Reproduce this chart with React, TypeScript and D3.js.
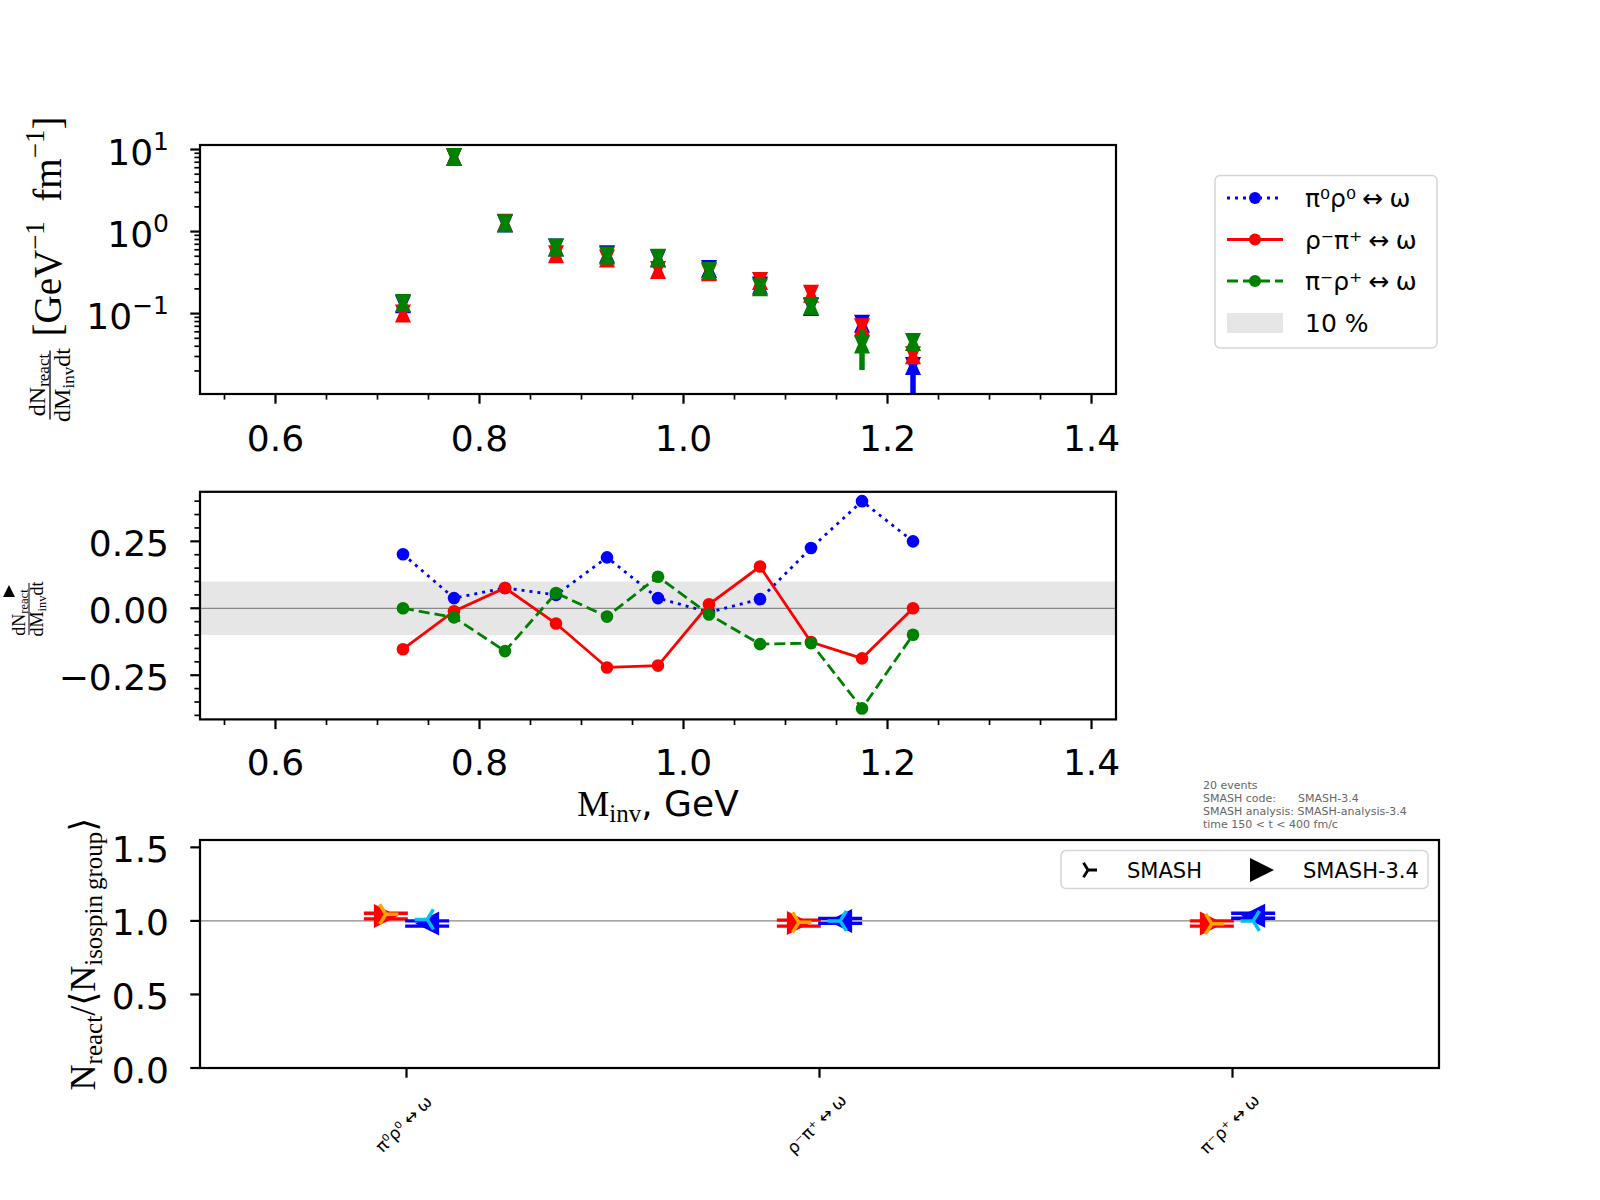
import * as d3 from 'd3';

// bin centres of the invariant-mass histogram, GeV
const BINS = [0.725, 0.775, 0.825, 0.875, 0.925, 0.975, 1.025, 1.075, 1.125, 1.175, 1.225];

// dN/dM dt per channel
const TOP_BLUE = [0.13, 8.1, 1.25, 0.64, 0.53, 0.47, 0.35, 0.22, 0.12, 0.075, 0.023];
const TOP_RED = [0.1, 8.1, 1.28, 0.53, 0.47, 0.34, 0.32, 0.25, 0.175, 0.068, 0.031];
const TOP_GREEN = [0.135, 8.1, 1.26, 0.64, 0.51, 0.48, 0.33, 0.21, 0.124, 0.042, 0.045];
const ERR_BLUE = [0.004, 0.2, 0.03, 0.015, 0.015, 0.012, 0.01, 0.008, 0.006, 0.006, 0.015];
const ERR_RED = [0.004, 0.2, 0.03, 0.015, 0.015, 0.012, 0.01, 0.008, 0.006, 0.005, 0.006];
const ERR_GREEN = [0.004, 0.2, 0.03, 0.015, 0.015, 0.012, 0.01, 0.008, 0.006, 0.0215, 0.008];

// relative deviation from the isospin-group mean
const DEV_BLUE = [0.202, 0.038, 0.076, 0.05, 0.19, 0.038, -0.015, 0.034, 0.225, 0.4, 0.25];
const DEV_RED = [-0.153, -0.011, 0.076, -0.057, -0.221, -0.214, 0.015, 0.156, -0.126, -0.187, 0.0];
const DEV_GREEN = [0.0, -0.034, -0.16, 0.057, -0.031, 0.118, -0.023, -0.134, -0.13, -0.374, -0.099];

const CHANNELS = ['π⁰ρ⁰\u2005↔\u2005ω', 'ρ⁻π⁺\u2005↔\u2005ω', 'π⁻ρ⁺\u2005↔\u2005ω'];

// N_react / <N_isospin group>
const NEW_LEFT = [1.033, 0.985, 0.982];
const NEW_LEFT_ERR = [0.019, 0.02, 0.018];
const OLD_LEFT = [1.045, 0.99, 0.98];
const NEW_RIGHT = [0.982, 1.0, 1.035];
const NEW_RIGHT_ERR = [0.018, 0.017, 0.017];
const OLD_RIGHT = [1.01, 1.0, 1.0];

const INFO = ['20 events', 'SMASH code:', 'SMASH analysis: SMASH-analysis-3.4', 'time 150 < t < 400 fm/c'];

const SERIES = [
  { name: CHANNELS[0], color: '#0000ff', dash: '3,5', top: TOP_BLUE, err: ERR_BLUE, dev: DEV_BLUE },
  { name: CHANNELS[1], color: '#ff0000', dash: '', top: TOP_RED, err: ERR_RED, dev: DEV_RED },
  { name: CHANNELS[2], color: '#008000', dash: '11,5', top: TOP_GREEN, err: ERR_GREEN, dev: DEV_GREEN },
];

const SERIF = 'Liberation Serif, DejaVu Serif, serif';
const SANS = 'DejaVu Sans, sans-serif';

const xTop = d3.scaleLinear().domain([0.526, 1.424]).range([200, 1116]);
const yTop = d3.scaleLog().domain([10 ** -1.98, 10 ** 1.055]).range([394, 145]);
const yMid = d3.scaleLinear().domain([-0.415, 0.435]).range([719.4, 491.8]);
const xBot = d3.scaleLinear().domain([-0.5, 2.5]).range([200, 1439]);
const yBot = d3.scaleLinear().domain([0, 1.55]).range([1068, 840]);

const hourglass = (x: number, y: number) =>
  `M${x},${y - 9}L${x + 8},${y + 9}L${x - 8},${y + 9}Z M${x - 8},${y - 9}L${x + 8},${y - 9}L${x},${y + 9}Z`;
const triRight = (x: number, y: number, s: number) => `M${x - s},${y - s}L${x + s},${y}L${x - s},${y + s}Z`;
const triLeft = (x: number, y: number, s: number) => `M${x + s},${y - s}L${x - s},${y}L${x + s},${y + s}Z`;
const armsRight = (x: number, y: number, s: number) =>
  `M${x},${y}L${x + s},${y}M${x},${y}L${x - 0.5 * s},${y - 0.8 * s}M${x},${y}L${x - 0.5 * s},${y + 0.8 * s}`;
const armsLeft = (x: number, y: number, s: number) =>
  `M${x},${y}L${x - s},${y}M${x},${y}L${x + 0.5 * s},${y - 0.8 * s}M${x},${y}L${x + 0.5 * s},${y + 0.8 * s}`;

function XAxis({ y0, labelY }: { y0: number; labelY: number }) {
  const ks = d3.range(11, 29);
  return (
    <g>
      {ks.map(k => {
        const major = k % 4 === 0;
        const x = xTop(k * 0.05);
        return <line key={k} x1={x} x2={x} y1={y0} y2={y0 + (major ? 9.7 : 5.6)} stroke="#000" strokeWidth={major ? 2.2 : 1.7} />;
      })}
      {[0.6, 0.8, 1.0, 1.2, 1.4].map(v => (
        <text key={v} x={xTop(v)} y={labelY} textAnchor="middle" fontSize={36}>{v.toFixed(1)}</text>
      ))}
    </g>
  );
}

function Frame({ x0, x1, y0, y1 }: { x0: number; x1: number; y0: number; y1: number }) {
  return <rect x={x0} y={y0} width={x1 - x0} height={y1 - y0} fill="none" stroke="#000" strokeWidth={2.2} />;
}

export default function App() {
  const line = d3.line<number>().x((_, i) => xTop(BINS[i])).y(d => yMid(d));

  // log-axis minor ticks
  const minors: number[] = [];
  for (let e = -2; e <= 1; e++) for (let k = 2; k <= 9; k++) {
    const v = k * 10 ** e;
    if (v > yTop.domain()[0] && v < yTop.domain()[1]) minors.push(v);
  }
  const midKs = d3.range(-8, 9);

  return (
    <svg width={1600} height={1200} style={{ position: 'absolute', left: 0, top: 0, background: '#fff' }} fontFamily={SANS}>
      <defs>
        <clipPath id="clipTop"><rect x={200} y={145} width={916} height={249} /></clipPath>
      </defs>

      {/* ---------- top panel ---------- */}
      <g clipPath="url(#clipTop)">
        {SERIES.map(s => (
          <g key={s.color} fill={s.color}>
            {s.top.map((v, i) => (
              <line key={'e' + i} x1={xTop(BINS[i])} x2={xTop(BINS[i])} y1={yTop(v + s.err[i])} y2={yTop(Math.max(v - s.err[i], 1e-3))} stroke={s.color} strokeWidth={5.5} />
            ))}
            {s.top.map((v, i) => <path key={'m' + i} d={hourglass(xTop(BINS[i]), yTop(v))} />)}
          </g>
        ))}
      </g>
      <Frame x0={200} x1={1116} y0={145} y1={394} />
      <XAxis y0={394} labelY={451} />
      {minors.map(v => <line key={v} x1={200} x2={194.4} y1={yTop(v)} y2={yTop(v)} stroke="#000" strokeWidth={1.7} />)}
      {[-1, 0, 1].map(e => (
        <g key={e}>
          <line x1={200} x2={190.3} y1={yTop(10 ** e)} y2={yTop(10 ** e)} stroke="#000" strokeWidth={2.2} />
          <text x={169} y={yTop(10 ** e) + 15} textAnchor="end" fontSize={36}>
            10<tspan fontSize={25} dy={-15}>{e < 0 ? '\u2212' + -e : e}</tspan>
          </text>
        </g>
      ))}
      <g transform="translate(50,269.5) rotate(-90)" fontFamily={SERIF}>
        <text x={-115.5} y={-5} textAnchor="middle" fontSize={24}>
          dN<tspan fontSize={17} dy={4}>react</tspan>
        </text>
        <line x1={-150} x2={-81} y1={0} y2={0} stroke="#000" strokeWidth={1.3} />
        <text x={-115.5} y={20} textAnchor="middle" fontSize={24}>
          dM<tspan fontSize={17} dy={4}>inv</tspan><tspan dy={-4}>dt</tspan>
        </text>
        <text x={-67} y={11} fontSize={39}>
          [GeV<tspan fontSize={27} dy={-17}>{'\u22121'}</tspan><tspan dy={17}>{'\u2002'}fm</tspan>
          <tspan fontSize={27} dy={-17}>{'\u22121'}</tspan><tspan dy={17}>]</tspan>
        </text>
      </g>

      {/* legend */}
      <g>
        <rect x={1215} y={175.5} width={222} height={172.5} rx={5} fill="#fff" stroke="#d5d5d5" strokeWidth={1.5} />
        {SERIES.map((s, i) => {
          const y = 198 + i * 41.5;
          return (
            <g key={s.color}>
              <line x1={1227} x2={1283} y1={y} y2={y} stroke={s.color} strokeWidth={3} strokeDasharray={s.dash || undefined} />
              <circle cx={1255} cy={y} r={6} fill={s.color} />
              <text x={1305} y={y + 9} fontSize={25}>{s.name}</text>
            </g>
          );
        })}
        <rect x={1227} y={313} width={56} height={20} fill="#e6e6e6" />
        <text x={1305} y={332} fontSize={25}>10 %</text>
      </g>

      {/* ---------- middle panel ---------- */}
      <rect x={200} y={yMid(0.1)} width={916} height={yMid(-0.1) - yMid(0.1)} fill="#e6e6e6" />
      <line x1={200} x2={1116} y1={yMid(0)} y2={yMid(0)} stroke="#888" strokeWidth={1.2} />
      {SERIES.map(s => (
        <g key={s.color}>
          <path d={line(s.dev) || ''} fill="none" stroke={s.color} strokeWidth={2.8} strokeDasharray={s.dash || undefined} />
          {s.dev.map((v, i) => <circle key={i} cx={xTop(BINS[i])} cy={yMid(v)} r={6.3} fill={s.color} />)}
        </g>
      ))}
      <Frame x0={200} x1={1116} y0={491.8} y1={719.4} />
      <XAxis y0={719.4} labelY={775} />
      {midKs.map(k => {
        const major = k % 5 === 0;
        const y = yMid(k * 0.05);
        return <line key={k} x1={200} x2={200 - (major ? 9.7 : 5.6)} y1={y} y2={y} stroke="#000" strokeWidth={major ? 2.2 : 1.7} />;
      })}
      {[-0.25, 0, 0.25].map(v => (
        <text key={v} x={169} y={yMid(v) + 14.5} textAnchor="end" fontSize={36}>{(v < 0 ? '\u2212' : '') + Math.abs(v).toFixed(2)}</text>
      ))}
      <path d="M9,585L15,597L3,597Z" fill="#000" />
      <g transform="translate(29,609) rotate(-90)" fontFamily={SERIF}>
        <text x={-3.5} y={-4} textAnchor="middle" fontSize={18}>
          dN<tspan fontSize={12.5} dy={3}>react</tspan>
        </text>
        <line x1={-26} x2={26} y1={0} y2={0} stroke="#000" strokeWidth={1} />
        <text x={0} y={14} textAnchor="middle" fontSize={18}>
          dM<tspan fontSize={12.5} dy={3}>inv</tspan><tspan dy={-3}>dt</tspan>
        </text>
      </g>
      <text x={658} y={816} textAnchor="middle" fontSize={36}>
        <tspan fontFamily={SERIF}>M</tspan><tspan fontFamily={SERIF} fontSize={25} dy={6}>inv</tspan><tspan dy={-6}>, GeV</tspan>
      </text>

      {/* info block */}
      <g fontSize={11} fill="#666">
        {INFO.map((t, i) => <text key={i} x={1203} y={789 + i * 13}>{t}</text>)}
        <text x={1298} y={802}>SMASH-3.4</text>
      </g>

      {/* ---------- bottom panel ---------- */}
      <line x1={200} x2={1439} y1={yBot(1)} y2={yBot(1)} stroke="#888" strokeWidth={1.2} />
      {CHANNELS.map((_, i) => {
        const xl = xBot(i - 0.05);
        const xr = xBot(i + 0.05);
        return (
          <g key={i}>
            {[NEW_LEFT[i] - NEW_LEFT_ERR[i], NEW_LEFT[i] + NEW_LEFT_ERR[i]].map((v, j) => (
              <line key={'l' + j} x1={xl - 22} x2={xl + 22} y1={yBot(v)} y2={yBot(v)} stroke="#ff0000" strokeWidth={3.3} />
            ))}
            <path d={triRight(xl, yBot(NEW_LEFT[i]), 12)} fill="#ff0000" />
            <path d={armsRight(xl, yBot(OLD_LEFT[i]), 12.5)} stroke="orange" strokeWidth={3.5} fill="none" />
            {[NEW_RIGHT[i] - NEW_RIGHT_ERR[i], NEW_RIGHT[i] + NEW_RIGHT_ERR[i]].map((v, j) => (
              <line key={'r' + j} x1={xr - 22} x2={xr + 22} y1={yBot(v)} y2={yBot(v)} stroke="#0000ff" strokeWidth={3.3} />
            ))}
            <path d={triLeft(xr, yBot(NEW_RIGHT[i]), 12)} fill="#0000ff" />
            <path d={armsLeft(xr, yBot(OLD_RIGHT[i]), 12.5)} stroke="deepskyblue" strokeWidth={3.5} fill="none" />
          </g>
        );
      })}
      <Frame x0={200} x1={1439} y0={840} y1={1068} />
      {CHANNELS.map((c, i) => (
        <g key={c}>
          <line x1={xBot(i)} x2={xBot(i)} y1={1068} y2={1077.7} stroke="#000" strokeWidth={2.2} />
          <text transform={`translate(${xBot(i) - 3},1124) rotate(-45)`} textAnchor="middle" dy="0.35em" fontSize={17}>{c}</text>
        </g>
      ))}
      {[0, 0.5, 1, 1.5].map(v => (
        <g key={v}>
          <line x1={200} x2={190.3} y1={yBot(v)} y2={yBot(v)} stroke="#000" strokeWidth={2.2} />
          <text x={169} y={yBot(v) + 14.5} textAnchor="end" fontSize={36}>{v.toFixed(1)}</text>
        </g>
      ))}
      <g transform="translate(95,954) rotate(-90)" fontFamily={SERIF}>
        <text x={0} y={0} textAnchor="middle" fontSize={36}>
          N<tspan fontSize={25} dy={7}>react</tspan><tspan dy={-7}>/⟨N</tspan><tspan fontSize={25} dy={7}>isospin{'\u2009'}group</tspan><tspan dy={-7}>⟩</tspan>
        </text>
      </g>
      <g>
        <rect x={1061} y={850.5} width={367} height={38} rx={5} fill="#fff" stroke="#d5d5d5" strokeWidth={1.5} />
        <path d={armsRight(1088, 870, 9)} stroke="#000" strokeWidth={2.8} fill="none" />
        <text x={1127} y={877.5} fontSize={21}>SMASH</text>
        <path d={triRight(1262, 870, 12)} fill="#000" />
        <text x={1303} y={877.5} fontSize={21}>SMASH-3.4</text>
      </g>
    </svg>
  );
}
